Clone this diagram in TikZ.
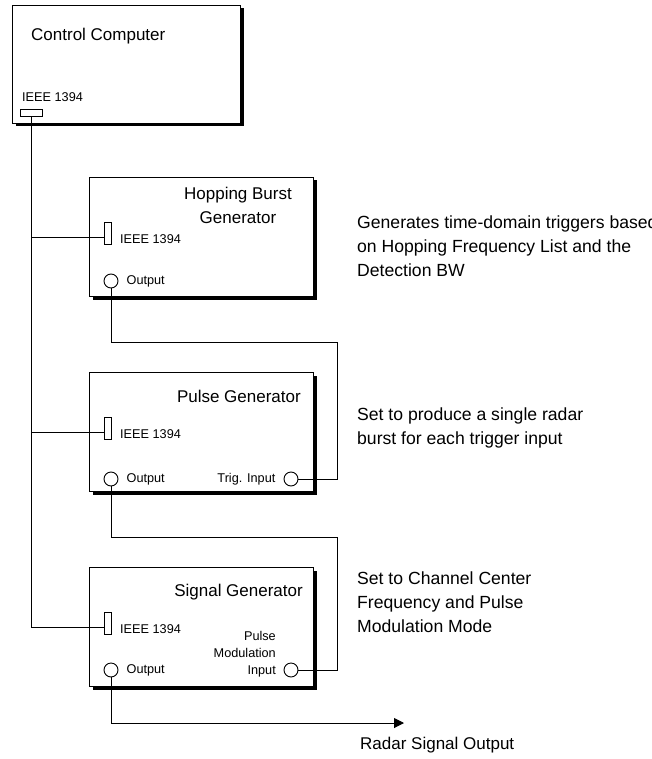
\documentclass[tikz,border=0pt]{standalone}
\usepackage{fontspec}
\setmainfont{Liberation Sans}
\usetikzlibrary{arrows.meta,positioning,shadows}

\begin{document}
\begin{tikzpicture}[
    x=1pt, y=-1pt,
    node distance=8pt,
    unit/.style={draw, fill=white, line width=1pt, anchor=north west, inner sep=0pt,
        minimum width=224pt, minimum height=119pt,
        general shadow={fill=black, shadow xshift=3pt, shadow yshift=-3pt}},
    fwport/.style={draw, fill=white, line width=0.9pt, inner sep=0pt,
        minimum width=7pt, minimum height=22pt},
    jack/.style={draw, circle, fill=white, line width=0.9pt, inner sep=0pt, minimum size=14pt},
    big/.style={font=\fontsize{17}{24}\selectfont, inner sep=0pt},
    note/.style={font=\fontsize{17.6}{24}\selectfont, inner sep=0pt, anchor=west, align=left},
    small/.style={font=\fontsize{12.7}{17}\selectfont, inner sep=0pt},
    wire/.style={line width=1pt}
    ]
    \useasboundingbox (0,0) rectangle (652,759);
    % control computer
    \node[unit, minimum width=228pt, minimum height=118pt] (cc) at (12,5) {};
    \node[big, anchor=west] (cctitle) at (31,36) {Control Computer};
    \node[small, anchor=west] (cclabel) at (22,97) {IEEE 1394};
    \node[fwport, minimum width=22pt, minimum height=7pt] (ccfw) at (31,113) {};
    % hopping burst generator
    \node[unit] (hb) at (89,177) {};
    \node[big, align=center] (hbtitle) at (238,205) {Hopping Burst\\Generator};
    \node[fwport] (hbfw) at (107.5,233) {};
    \node[small, anchor=west] (hblabel) at (120,239) {IEEE 1394};
    \node[jack] (hbout) at (111,281) {};
    \node[small, right=of hbout] (hboutlabel) {Output};
    \node[note] (hbnote) at (357,246)
        {Generates time-domain triggers based\\on Hopping Frequency List and the\\Detection BW};
    % pulse generator
    \node[unit] (pg) at (89,372) {};
    \node[big, anchor=east] (pgtitle) at (301,396) {Pulse Generator};
    \node[fwport] (pgfw) at (107.5,428) {};
    \node[small, anchor=west] (pglabel) at (120,434) {IEEE 1394};
    \node[jack] (pgout) at (111,479) {};
    \node[small, right=of pgout] (pgoutlabel) {Output};
    \node[jack] (pgtrig) at (291,479) {};
    \node[small, left=of pgtrig] (pgtriglabel) {Trig. Input};
    \node[note] (pgnote) at (357,428)
        {Set to produce a single radar\\burst for each trigger input};
    % signal generator
    \node[unit] (sg) at (89,567) {};
    \node[big, anchor=east] (sgtitle) at (303,592) {Signal Generator};
    \node[fwport] (sgfw) at (107.5,623) {};
    \node[small, anchor=west] (sglabel) at (120,629) {IEEE 1394};
    \node[jack] (sgout) at (111,670) {};
    \node[small, right=of sgout] (sgoutlabel) {Output};
    \node[jack] (sgpm) at (291,670) {};
    \node[small, anchor=south east, align=right] (sgpmlabel) at (276,677)
        {Pulse\\Modulation\\Input};
    \node[note] (sgnote) at (357,602)
        {Set to Channel Center\\Frequency and Pulse\\Modulation Mode};
    \node[big, anchor=west] (rflabel) at (360,745) {Radar Signal Output};
    % bends
    \coordinate (loopA) at (337,342);
    \coordinate (loopB) at (337,537);
    \coordinate (rfout) at (404,723);
    % IEEE 1394 bus
    \draw[wire] (ccfw.south) |- ([yshift=-4pt]hbfw.west);
    \draw[wire] (ccfw.south) |- ([yshift=-4pt]pgfw.west);
    \draw[wire] (ccfw.south) |- ([yshift=-4pt]sgfw.west);
    % signal chain
    \draw[wire] (hbout.south) |- (loopA) |- (pgtrig.east);
    \draw[wire] (pgout.south) |- (loopB) |- (sgpm.east);
    \draw[wire, -{Triangle[length=10pt, width=10pt]}] (sgout.south) |- (rfout);
\end{tikzpicture}
\end{document}
